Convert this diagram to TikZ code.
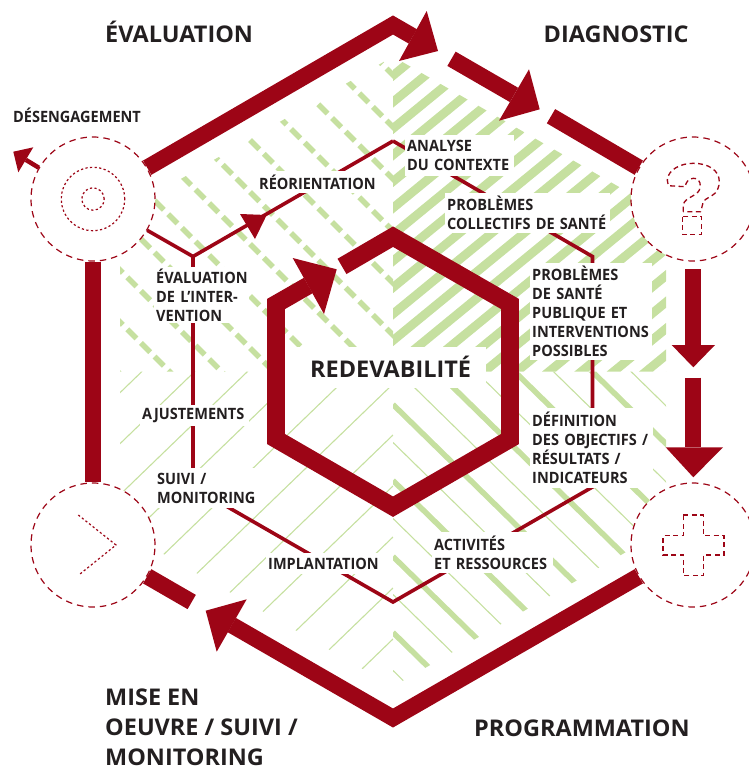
\documentclass[tikz,border=0pt]{standalone}
\usepackage{fontspec}
\setmainfont[FakeStretch=0.93]{Open Sans}
\newfontfamily\headfam[FakeStretch=1.02]{Open Sans}
\definecolor{rouge}{HTML}{9D0516}
\definecolor{vert}{HTML}{C6E0A0}
\definecolor{encre}{HTML}{231F20}
\newcommand\labfont{\fontsize{15.6}{19}\selectfont\bfseries\color{encre}}
\newcommand\headfont{\headfam\fontsize{23}{31}\selectfont\bfseries\color{encre}}
\newcommand\lab[6]{\node[labbox,minimum width=#4pt,minimum height=#5pt,text width=#4pt-5pt] (#1) at (#2,#3) {#6};}
\tikzset{
  labbox/.style={anchor=north west,fill=white,inner xsep=2.5pt,inner ysep=0pt,align=left,font=\labfont},
  headtxt/.style={anchor=base west,inner sep=0pt,font=\headfont},
  circ/.style={circle,draw=rouge,fill=white,line width=1.2pt,dash pattern=on 6.5pt off 5pt,minimum size=124pt,inner sep=0pt},
  circin/.style={circle,draw=rouge,line width=1.2pt,dash pattern=on 2.2pt off 2.4pt,inner sep=0pt},
  glyphline/.style={draw=rouge,line width=1.3pt,dash pattern=on 5pt off 3.5pt},
  fatline/.style={draw=rouge,line width=16.5pt,line join=miter,miter limit=10},
  midline/.style={draw=rouge,line width=17.7pt,line join=miter,miter limit=10},
  thinline/.style={draw=rouge,line width=3.6pt,line join=miter},
  tip/.style={fill=rouge,draw=none},
  hthick/.style={vert,line width=8.8pt},
  hdash/.style={vert,line width=5.5pt,dash pattern=on 13pt off 6.3pt},
  hmed/.style={vert,line width=5.5pt},
  hfine/.style={vert,line width=1.1pt},
}
\begin{document}
\begin{tikzpicture}[x=1pt,y=-1pt]
\useasboundingbox (0,0) rectangle (748,769);
% hatching, one quadrant at a time
\begin{scope}
\clip (120,214) -- (393,56.5) -- (393,371.5) -- (120,371.5) -- cycle;
\foreach \k in {-9,...,3}{\pgfmathsetmacro\c{270+52*\k}
  \draw[hdash] (100,\c-20) -- (400,\c+280);}
\end{scope}
\begin{scope}
\clip (393,56.5) -- (666,214) -- (666,371.5) -- (393,371.5) -- cycle;
\foreach \k in {-2,...,20}{\pgfmathsetmacro\c{102+26.5*\k}
  \draw[hthick] (380,\c+10.66) -- (680,\c-235.34);}
\end{scope}
\begin{scope}
\clip (393,371.5) -- (666,371.5) -- (666,529) -- (393,686.5) -- cycle;
\foreach \k in {-5,...,4}{\pgfmathsetmacro\c{404.5+76*\k}\pgfmathsetmacro\d{442.5+76*\k}
  \draw[hmed] (393,\c) -- (680,\c+281);
  \draw[hfine] (393,\d) -- (680,\d+281);}
\end{scope}
\begin{scope}
\clip (120,371.5) -- (393,371.5) -- (393,686.5) -- (120,529) -- cycle;
\foreach \k in {-7,...,5}{\pgfmathsetmacro\c{486+51*\k}
  \draw[hfine] (393,\c) -- (100,\c+283);}
\end{scope}
% inner thin path
\coordinate (i1) at (393,141);
\coordinate (i2) at (592.5,256.5);
\coordinate (i3) at (592.5,487);
\coordinate (i4) at (393,602);
\coordinate (i5) at (193,487);
\coordinate (i6) at (193,256.5);
\node[circ] (cEval) at (93,199) {};
\node[circ] (cDiag) at (693,199) {};
\node[circ] (cProg) at (693,545) {};
\node[circ] (cMise) at (93,545) {};
\draw[thinline] (i1) -- (i2) -- (i3) -- (i4) -- (i5) -- (i6) -- (i1);
\draw[thinline] (cEval.-30) -- (i6);
\fill[tip] (266.7,215) -- (240,214) -- (255,239) -- cycle;
% labels
\node[fill=white,inner sep=0pt,minimum width=201pt,minimum height=41pt,anchor=north west] (redbox) at (285,347) {};
\lab{analyse}{404.5}{135}{109}{41}{ANALYSE\\DU CONTEXTE}
\lab{problemes}{444.5}{193}{165.5}{40}{PROBLÈMES\\COLLECTIFS DE SANTÉ}
\lab{santepub}{529.5}{263}{122}{97}{PROBLÈMES\\DE SANTÉ\\PUBLIQUE ET\\INTERVENTIONS\\POSSIBLES}
\lab{definition}{529.5}{408}{123}{80}{DÉFINITION\\DES OBJECTIFS /\\RÉSULTATS /\\INDICATEURS}
\lab{activites}{431.5}{532}{121}{41}{ACTIVITÉS\\ET RESSOURCES}
\lab{implant}{265.5}{553}{115}{21}{IMPLANTATION}
\lab{suivi}{154.5}{468}{100}{40}{SUIVI /\\MONITORING}
\lab{ajust}{139.5}{405}{109}{21}{AJUSTEMENTS}
\lab{evalint}{153.5}{267}{95}{56}{ÉVALUATION\\DE L’INTER-\\VENTION}
\lab{reorient}{256.5}{171}{120}{22}{RÉORIENTATION}
\node[inner sep=0pt,anchor=base west,font=\labfont] (desen) at (13,122) {DÉSENGAGEMENT};
\node[headtxt] (tEval) at (105,42) {ÉVALUATION};
\node[headtxt] (tDiag) at (543.5,42) {DIAGNOSTIC};
\node[headtxt] (tProg) at (474,736) {PROGRAMMATION};
\node[headtxt] (tMise1) at (105,705) {MISE EN};
\node[headtxt] (tMise2) at (105,735) {OEUVRE / SUIVI /};
\node[headtxt] (tMise3) at (105,765) {MONITORING};
\node[headtxt] (tRed) at (310,377) {REDEVABILITÉ};
% inner thick hexagon
\coordinate (h1) at (342,266.4);
\coordinate (h2) at (393,236.7);
\coordinate (h3) at (510,304);
\coordinate (h4) at (510,439);
\coordinate (h5) at (393,506.7);
\coordinate (h6) at (276,439);
\coordinate (h7) at (276,304);
\coordinate (h8) at (308.3,285.5);
\draw[midline] (h1) -- (h2) -- (h3) -- (h4) -- (h5) -- (h6) -- (h7) -- (h8);
\fill[tip] (336.7,269.3) -- (292.7,258) -- (324,314) -- cycle;
% outer hexagon
\coordinate (o1) at (393,25);
\coordinate (o2) at (412.8,36.4);
\coordinate (o3) at (451.5,58.8);
\coordinate (o4) at (514,94.9);
\coordinate (o5) at (551,116.2);
\coordinate (o6) at (693,269);
\coordinate (o7) at (693,345);
\coordinate (o8) at (693,377.7);
\coordinate (o9) at (693,447.3);
\coordinate (o10) at (393,718);
\coordinate (o11) at (231.7,625);
\coordinate (o12) at (191.7,602);
\draw[fatline] (cEval.30) -- (o1) -- (o2);
\fill[tip] (438,51) -- (426.7,11) -- (399,61) -- cycle;
\draw[fatline] (o3) -- (o4);
\fill[tip] (539.7,109.3) -- (529,69.3) -- (499,120.7) -- cycle;
\draw[fatline] (o5) -- (cDiag.150);
\draw[fatline] (o6) -- (o7);
\fill[tip] (693.3,367.3) -- (671.7,345) -- (715,345) -- cycle;
\draw[fatline] (o8) -- (o9);
\fill[tip] (693.3,477.3) -- (665.7,447.3) -- (723,447.3) -- cycle;
\draw[fatline] (cProg.210) -- (o10) -- (o11);
\fill[tip] (205.7,610.7) -- (246.7,599.3) -- (216.7,651.7) -- cycle;
\draw[fatline] (o12) -- (cMise.-30);
\draw[fatline] (cEval.south) -- (cMise.north);
% disengagement arrow
\coordinate (dh) at (25.8,159.8);
\draw[draw=rouge,line width=4.5pt] (cEval.150) -- (dh);
\fill[tip] (13.3,151.7) -- (33.3,147.3) -- (18.3,172.3) -- cycle;
% circle glyphs
\node[circin,minimum size=63.4pt] (g1) at (cEval) {};
\node[circin,minimum size=22.4pt] (g2) at (cEval) {};
\draw[circin] (78.3,515) -- (116,545) -- (80,574);
\draw[glyphline,line join=round] (683.3,211.7) -- (683.3,205) .. controls (684,197) and (700,196) .. (700,187.3) .. controls (701,180) and (697,178.3) .. (693.3,178.3) .. controls (688,178.3) and (686,183) .. (685,186.7) -- (668.3,185.7) -- (667.3,180) .. controls (668,170) and (680,163.3) .. (693.3,163.3) .. controls (708,163.3) and (719.3,170) .. (719.3,181.7) .. controls (719.3,187) and (717,191) .. (715,193.3) .. controls (711,197) and (706,198) .. (703.3,201.7) -- (700.7,211.7) -- cycle;
\draw[glyphline] (682.3,216.7) rectangle (701.7,234.3);
\draw[glyphline] (683.3,515) -- (703.3,515) -- (703.3,535.7) -- (724,535.7) -- (724,555) -- (703.3,555) -- (703.3,575.7) -- (683.3,575.7) -- (683.3,555) -- (663,555) -- (663,535.7) -- (683.3,535.7) -- cycle;
\end{tikzpicture}
\end{document}
